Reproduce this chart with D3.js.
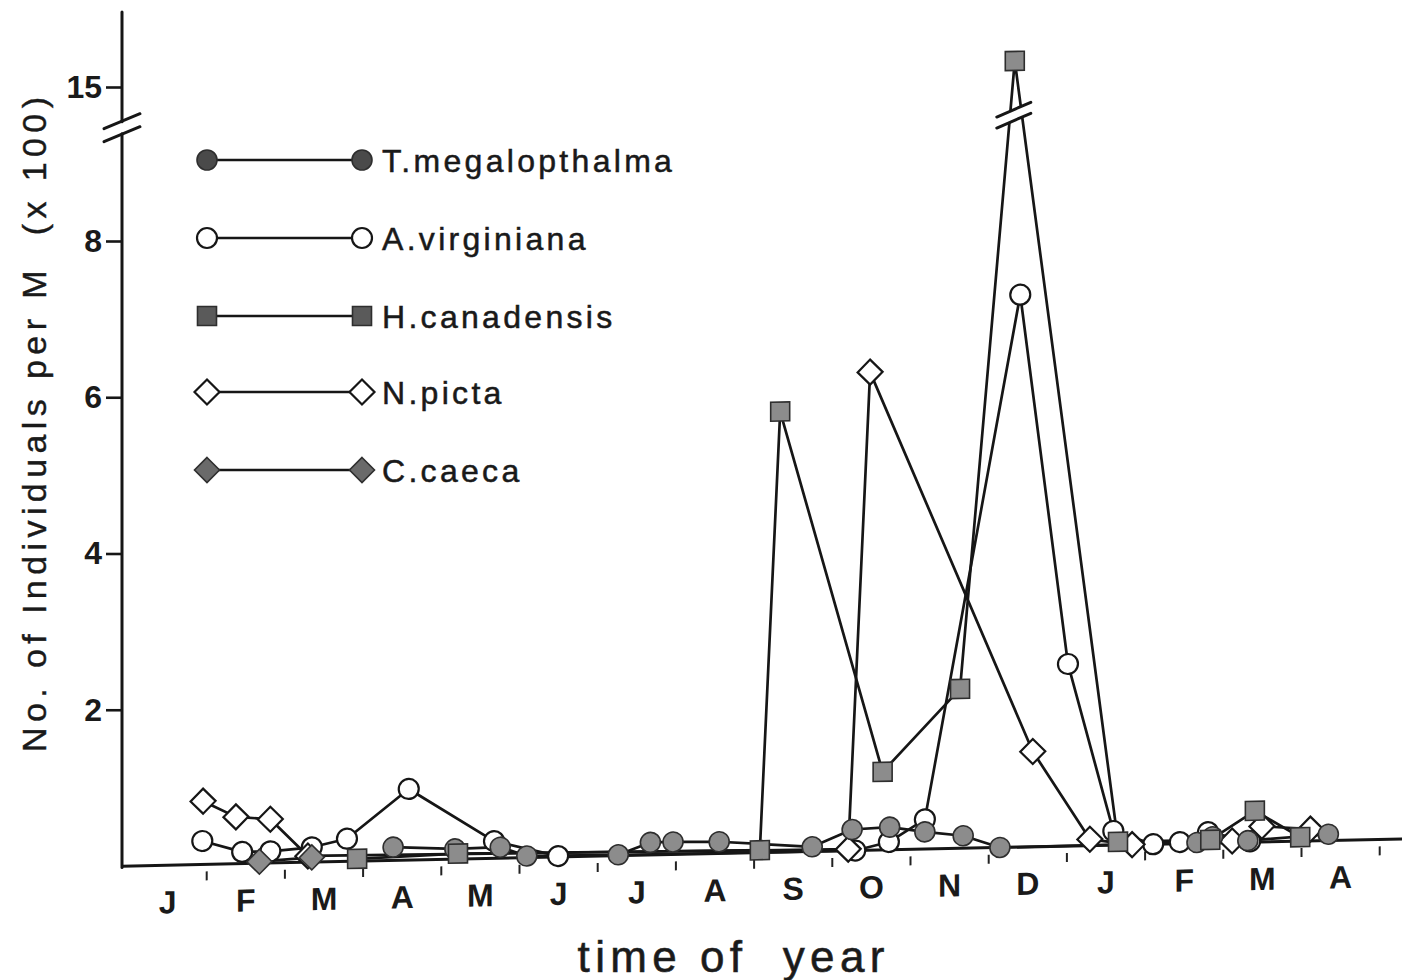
<!DOCTYPE html>
<html>
<head>
<meta charset="utf-8">
<script src="https://cdn.jsdelivr.net/npm/d3@7"></script>
<style>
  html, body { margin: 0; padding: 0; background: #fff; }
  svg { display: block; }
  text { font-family: "Liberation Sans", Arial, Helvetica, sans-serif; fill: #1a1a1a; }
</style>
</head>
<body>
<svg id="chart" width="1402" height="980"></svg>
<script>
// Month initials along the time axis (January of year one to April of year two)
const monthLabels = ["J","F","M","A","M","J","J","A","S","O","N","D","J","F","M","A"];
const yTickValues = [2, 4, 6, 8, 15];

// Sampling dates (months since 1 January, year one) and densities (individuals per m, x 100)
const tMegalopthalma = [
  {t: 3.39, v: 0.17}, {t: 4.18, v: 0.13}, {t: 4.76, v: 0.14}, {t: 5.10, v: 0.02},
  {t: 6.27, v: 0.01}, {t: 6.68, v: 0.16}, {t: 6.97, v: 0.16}, {t: 7.56, v: 0.15},
  {t: 8.75, v: 0.06}, {t: 9.26, v: 0.27}, {t: 9.74, v: 0.29}, {t: 10.19, v: 0.22},
  {t: 10.68, v: 0.16}, {t: 11.15, v: 0.0}, {t: 13.67, v: 0.01}, {t: 13.87, v: 0.08},
  {t: 14.32, v: 0.02}, {t: 15.35, v: 0.08}
];
const aVirginiana = [
  {t: 0.95, v: 0.30}, {t: 1.46, v: 0.15}, {t: 1.82, v: 0.15}, {t: 2.35, v: 0.19},
  {t: 2.80, v: 0.29}, {t: 3.59, v: 0.91}, {t: 4.68, v: 0.22}, {t: 5.50, v: 0.01},
  {t: 9.30, v: 0.0}, {t: 9.73, v: 0.10}, {t: 10.19, v: 0.38}, {t: 11.41, v: 7.07},
  {t: 12.02, v: 2.33}, {t: 12.60, v: 0.18}, {t: 13.11, v: 0.0}, {t: 13.45, v: 0.02},
  {t: 13.81, v: 0.14}, {t: 14.35, v: 0.01}
];
const hCanadensis = [
  {t: 2.93, v: 0.03}, {t: 4.22, v: 0.07}, {t: 8.08, v: 0.03}, {t: 8.34, v: 5.64},
  {t: 9.65, v: 1.00}, {t: 10.64, v: 2.04}, {t: 11.34, v: 15.1}, {t: 12.66, v: 0.04},
  {t: 13.84, v: 0.04}, {t: 14.41, v: 0.40}, {t: 14.99, v: 0.05}
];
const nPicta = [
  {t: 0.96, v: 0.81}, {t: 1.38, v: 0.60}, {t: 1.82, v: 0.56}, {t: 2.30, v: 0.08},
  {t: 9.21, v: 0.02}, {t: 9.49, v: 6.12}, {t: 11.57, v: 1.22}, {t: 12.30, v: 0.08},
  {t: 12.84, v: 0.0}, {t: 14.12, v: 0.02}, {t: 14.50, v: 0.20}, {t: 15.12, v: 0.15}
];
const cCaeca = [
  {t: 1.68, v: 0.02}, {t: 2.35, v: 0.06}
];

const seriesNames = ["T.megalopthalma", "A.virginiana", "H.canadensis", "N.picta", "C.caeca"];

const series = [
  {name: seriesNames[0], data: tMegalopthalma, shape: "circle",  filled: true,  legendFill: "#4a4a4a"},
  {name: seriesNames[1], data: aVirginiana,    shape: "circle",  filled: false},
  {name: seriesNames[2], data: hCanadensis,    shape: "square",  filled: true,  legendFill: "#5a5a5a"},
  {name: seriesNames[3], data: nPicta,         shape: "diamond", filled: false},
  {name: seriesNames[4], data: cCaeca,         shape: "diamond", filled: true,  legendFill: "#6a6a6a"}
];

const ink = "#161616";
const greyFill = "#8c8c8c";

const svg = d3.select("#chart");

// Scales: months along x, broken density axis along y (the 15 level sits just above the break)
const x = d3.scaleLinear().domain([0, 16]).range([128, 1379.2]);
const y = d3.scaleLinear().domain([0, 9.6, 14.6, 15]).range([866, 116, 116, 87]);

// The time axis runs slightly uphill to the right; the plotted area follows it
const tilt = 0.0213, pivotX = 130;
const plot = svg.append("g")
  .attr("transform", `matrix(1,${-tilt},0,1,0,${tilt * pivotX})`);

// Baseline
plot.append("line")
  .attr("x1", 122).attr("x2", 1402)
  .attr("y1", y(0)).attr("y2", y(0))
  .attr("stroke", ink).attr("stroke-width", 3);

// Month boundary ticks, hanging just below the baseline
const gTicks = plot.append("g")
  .attr("transform", `translate(0,${y(0) + 7})`)
  .call(d3.axisBottom(x).tickValues(d3.range(1, 17)).tickSize(9).tickFormat(""));
gTicks.select(".domain").remove();
gTicks.selectAll("line").attr("stroke", "#222").attr("stroke-width", 2);

// Month labels centred on each month
const gMonths = plot.append("g")
  .attr("transform", `translate(0,${y(0)})`)
  .call(d3.axisBottom(x)
    .tickValues(monthLabels.map((d, i) => i + 0.5))
    .tickSize(0)
    .tickFormat((d, i) => monthLabels[i]));
gMonths.select(".domain").remove();
gMonths.attr("font-family", null).attr("font-size", null);
gMonths.selectAll("text")
  .attr("y", 48).attr("dy", null)
  .attr("fill", ink)
  .style("font-size", "32px").style("font-weight", "bold");

// Series lines
const line = d3.line().x(d => x(d.t)).y(d => y(d.v));
series.forEach(s => {
  plot.append("path")
    .datum(s.data)
    .attr("d", line)
    .attr("fill", "none")
    .attr("stroke", ink)
    .attr("stroke-width", 2.7)
    .attr("stroke-linejoin", "round");
});

// Break across the lines that run up to the December peak
const hPeak = hCanadensis.reduce((a, b) => (b.v > a.v ? b : a));
{
  const cx = x(hPeak.t) - 1, cy = y(9.37), hx = 17, rise = 7, gap = 5.5;
  plot.append("polygon")
    .attr("points", [
      [cx - hx - 2, cy + rise - gap], [cx + hx + 2, cy - rise - gap],
      [cx + hx + 2, cy - rise + gap], [cx - hx - 2, cy + rise + gap]
    ].map(p => p.join(",")).join(" "))
    .attr("fill", "#fff");
  [-gap, gap].forEach(o => {
    plot.append("line")
      .attr("x1", cx - hx).attr("y1", cy + rise + o)
      .attr("x2", cx + hx).attr("y2", cy - rise + o)
      .attr("stroke", ink).attr("stroke-width", 3).attr("stroke-linecap", "round");
  });
}

// Marker drawing
function markerPath(shape) {
  if (shape === "square") return "M-9.5,-9.5H9.5V9.5H-9.5Z";
  if (shape === "diamond") return "M0,-12.5L12.5,0L0,12.5L-12.5,0Z";
  return null;
}
function drawMarkers(parent, points, s, fillOverride) {
  const fill = fillOverride || (s.filled ? greyFill : "#fff");
  const g = parent.append("g");
  const sel = g.selectAll("g").data(points).join("g")
    .attr("transform", d => `translate(${d[0]},${d[1]})`);
  if (s.shape === "circle") {
    sel.append("circle").attr("r", 10);
  } else {
    sel.append("path").attr("d", markerPath(s.shape));
  }
  sel.selectAll("circle,path")
    .attr("fill", fill)
    .attr("stroke", s.filled ? "#2e2e2e" : ink)
    .attr("stroke-width", s.filled ? 1.6 : 2.2);
}

// Open markers first, filled ones over them
series.filter(s => !s.filled).forEach(s =>
  drawMarkers(plot, s.data.map(d => [x(d.t), y(d.v)]), s));
series.filter(s => s.filled).forEach(s =>
  drawMarkers(plot, s.data.map(d => [x(d.t), y(d.v)]), s));

// Density axis
const gY = svg.append("g")
  .attr("transform", "translate(122,0)")
  .call(d3.axisLeft(y).tickValues(yTickValues).tickSize(16).tickPadding(4).tickFormat(d3.format("d")));
gY.select(".domain").remove();
gY.attr("font-family", null).attr("font-size", null);
gY.selectAll("line").attr("stroke", ink).attr("stroke-width", 2.6);
gY.selectAll("text")
  .attr("fill", ink)
  .style("font-size", "32px").style("font-weight", "bold");

const axisBreakY = y(9.45);
const axisTop = 12;
[[axisTop, axisBreakY - 6], [axisBreakY + 6, y(0) + 1.5]].forEach(([a, b]) => {
  svg.append("line")
    .attr("x1", 122).attr("x2", 122).attr("y1", a).attr("y2", b)
    .attr("stroke", ink).attr("stroke-width", 3).attr("stroke-linecap", "round");
});
[-6.5, 6.5].forEach(o => {
  svg.append("line")
    .attr("x1", 122 - 18).attr("y1", axisBreakY + o + 7.5)
    .attr("x2", 122 + 18).attr("y2", axisBreakY + o - 7.5)
    .attr("stroke", ink).attr("stroke-width", 3).attr("stroke-linecap", "round");
});

// Legend
const legendRowsY = [160, 238, 316, 392, 470];
const legendX1 = 207, legendX2 = 362, legendTextX = 382;
series.forEach((s, i) => {
  const ly = legendRowsY[i];
  svg.append("line")
    .attr("x1", legendX1).attr("x2", legendX2).attr("y1", ly).attr("y2", ly)
    .attr("stroke", ink).attr("stroke-width", 2.6);
  drawMarkers(svg, [[legendX1, ly], [legendX2, ly]], s, s.filled ? s.legendFill : null);
  svg.append("text")
    .attr("x", legendTextX).attr("y", ly + 11.5)
    .attr("fill", ink)
    .attr("stroke", ink).attr("stroke-width", 0.5)
    .style("font-size", "32px")
    .style("letter-spacing", "3.3px")
    .text(s.name);
});

// Axis titles
svg.append("text")
  .attr("transform", "translate(46,752) rotate(-90)")
  .attr("text-anchor", "start")
  .attr("textLength", 655).attr("lengthAdjust", "spacing")
  .attr("fill", ink)
  .attr("stroke", ink).attr("stroke-width", 0.4)
  .style("font-size", "34px")
  .style("white-space", "pre")
  .text("No. of Individuals per M  (x 100)");

svg.append("text")
  .attr("x", 731).attr("y", 972)
  .attr("text-anchor", "middle")
  .attr("textLength", 307).attr("lengthAdjust", "spacing")
  .attr("fill", "#262626")
  .attr("stroke", "#262626").attr("stroke-width", 0.6)
  .style("font-size", "44px")
  .style("white-space", "pre")
  .text("time of  year");
</script>
</body>
</html>
